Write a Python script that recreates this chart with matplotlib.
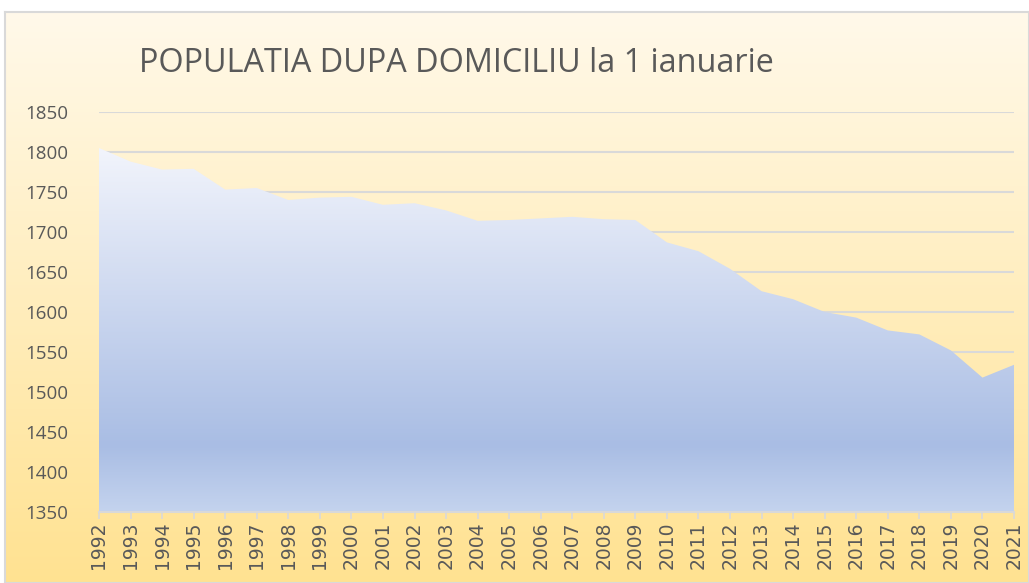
import numpy as np
import matplotlib
matplotlib.use("Agg")
import matplotlib.pyplot as plt
from matplotlib.colors import LinearSegmentedColormap

# population by residence on 1 January (thousands)
years = list(range(1992, 2022))
population = [1805, 1788, 1778, 1779, 1753, 1755, 1740, 1743, 1744, 1734,
              1736, 1727, 1714, 1715, 1717, 1719, 1716, 1715, 1687, 1676,
              1654, 1626, 1616, 1600, 1593, 1577, 1572, 1552, 1518, 1534]
yticks = list(range(1350, 1851, 50))
title = "POPULATIA DUPA DOMICILIU la 1 ianuarie"

W, H = 1029, 583
fig = plt.figure(figsize=(W / 100, H / 100), dpi=100)
fig.patch.set_facecolor("white")

# chart background with gradient and light border
bg = fig.add_axes([5 / W, 0, 1 - 5 / W, 1 - 12 / H])
bg_cmap = LinearSegmentedColormap.from_list("bg", ["#FFE291", "#FFF9EA"])
bg.imshow(np.linspace(0, 1, 256).reshape(-1, 1), aspect="auto", cmap=bg_cmap,
          origin="lower", extent=[0, 1, 0, 1])
bg.set_xlim(0, 1)
bg.set_ylim(0, 1)
bg.set_xticks([])
bg.set_yticks([])
for s in bg.spines.values():
    s.set_color("#D9D9D9")
    s.set_linewidth(1.5)

ax = fig.add_axes([99 / W, 1 - 512 / H, (1014 - 99) / W, (512 - 112) / H])
ax.patch.set_alpha(0)
x = np.arange(len(years))

# horizontal gridlines, under the area
for t in yticks[1:]:
    ax.axhline(t, color="#D9D9D9", linewidth=1.5, zorder=1)

# area with vertical gradient, clipped to the filled polygon
poly = ax.fill_between(x, 1350, population, facecolor="none", edgecolor="none")
area_cmap = LinearSegmentedColormap.from_list(
    "area", [(0, "#C4D3EE"), (0.18, "#A9BDE4"), (1, "#F3F5FC")])
img = ax.imshow(np.linspace(0, 1, 256).reshape(-1, 1), aspect="auto", cmap=area_cmap,
                origin="lower", extent=[0, len(years) - 1, 1350, 1810], zorder=2)
img.set_clip_path(poly.get_paths()[0], transform=ax.transData)
ax.set_xlim(0, len(years) - 1)
ax.set_ylim(1350, 1850)

ax.set_yticks(yticks)
ax.set_xticks(x)
ax.set_xticklabels([str(y) for y in years], rotation=90, fontsize=13.5,
                   color="#595959", family="DejaVu Sans")
for lab in ax.get_yticklabels():
    lab.set_family("Open Sans")
    lab.set_fontsize(13.5)
    lab.set_color("#595959")
ax.tick_params(axis="y", length=0, pad=22)
ax.tick_params(axis="x", length=5, color="#D9D9D9", width=1.2, pad=2)
for k in ["top", "right", "left"]:
    ax.spines[k].set_visible(False)
ax.spines["bottom"].set_color("#D9D9D9")
ax.spines["bottom"].set_linewidth(1.5)
ax.spines["bottom"].set_zorder(3)

fig.text(139 / W, 1 - 64 / H, title, fontsize=23.3, color="#595959",
         family="Open Sans", va="center", ha="left")

fig.savefig("out.png", dpi=100)
